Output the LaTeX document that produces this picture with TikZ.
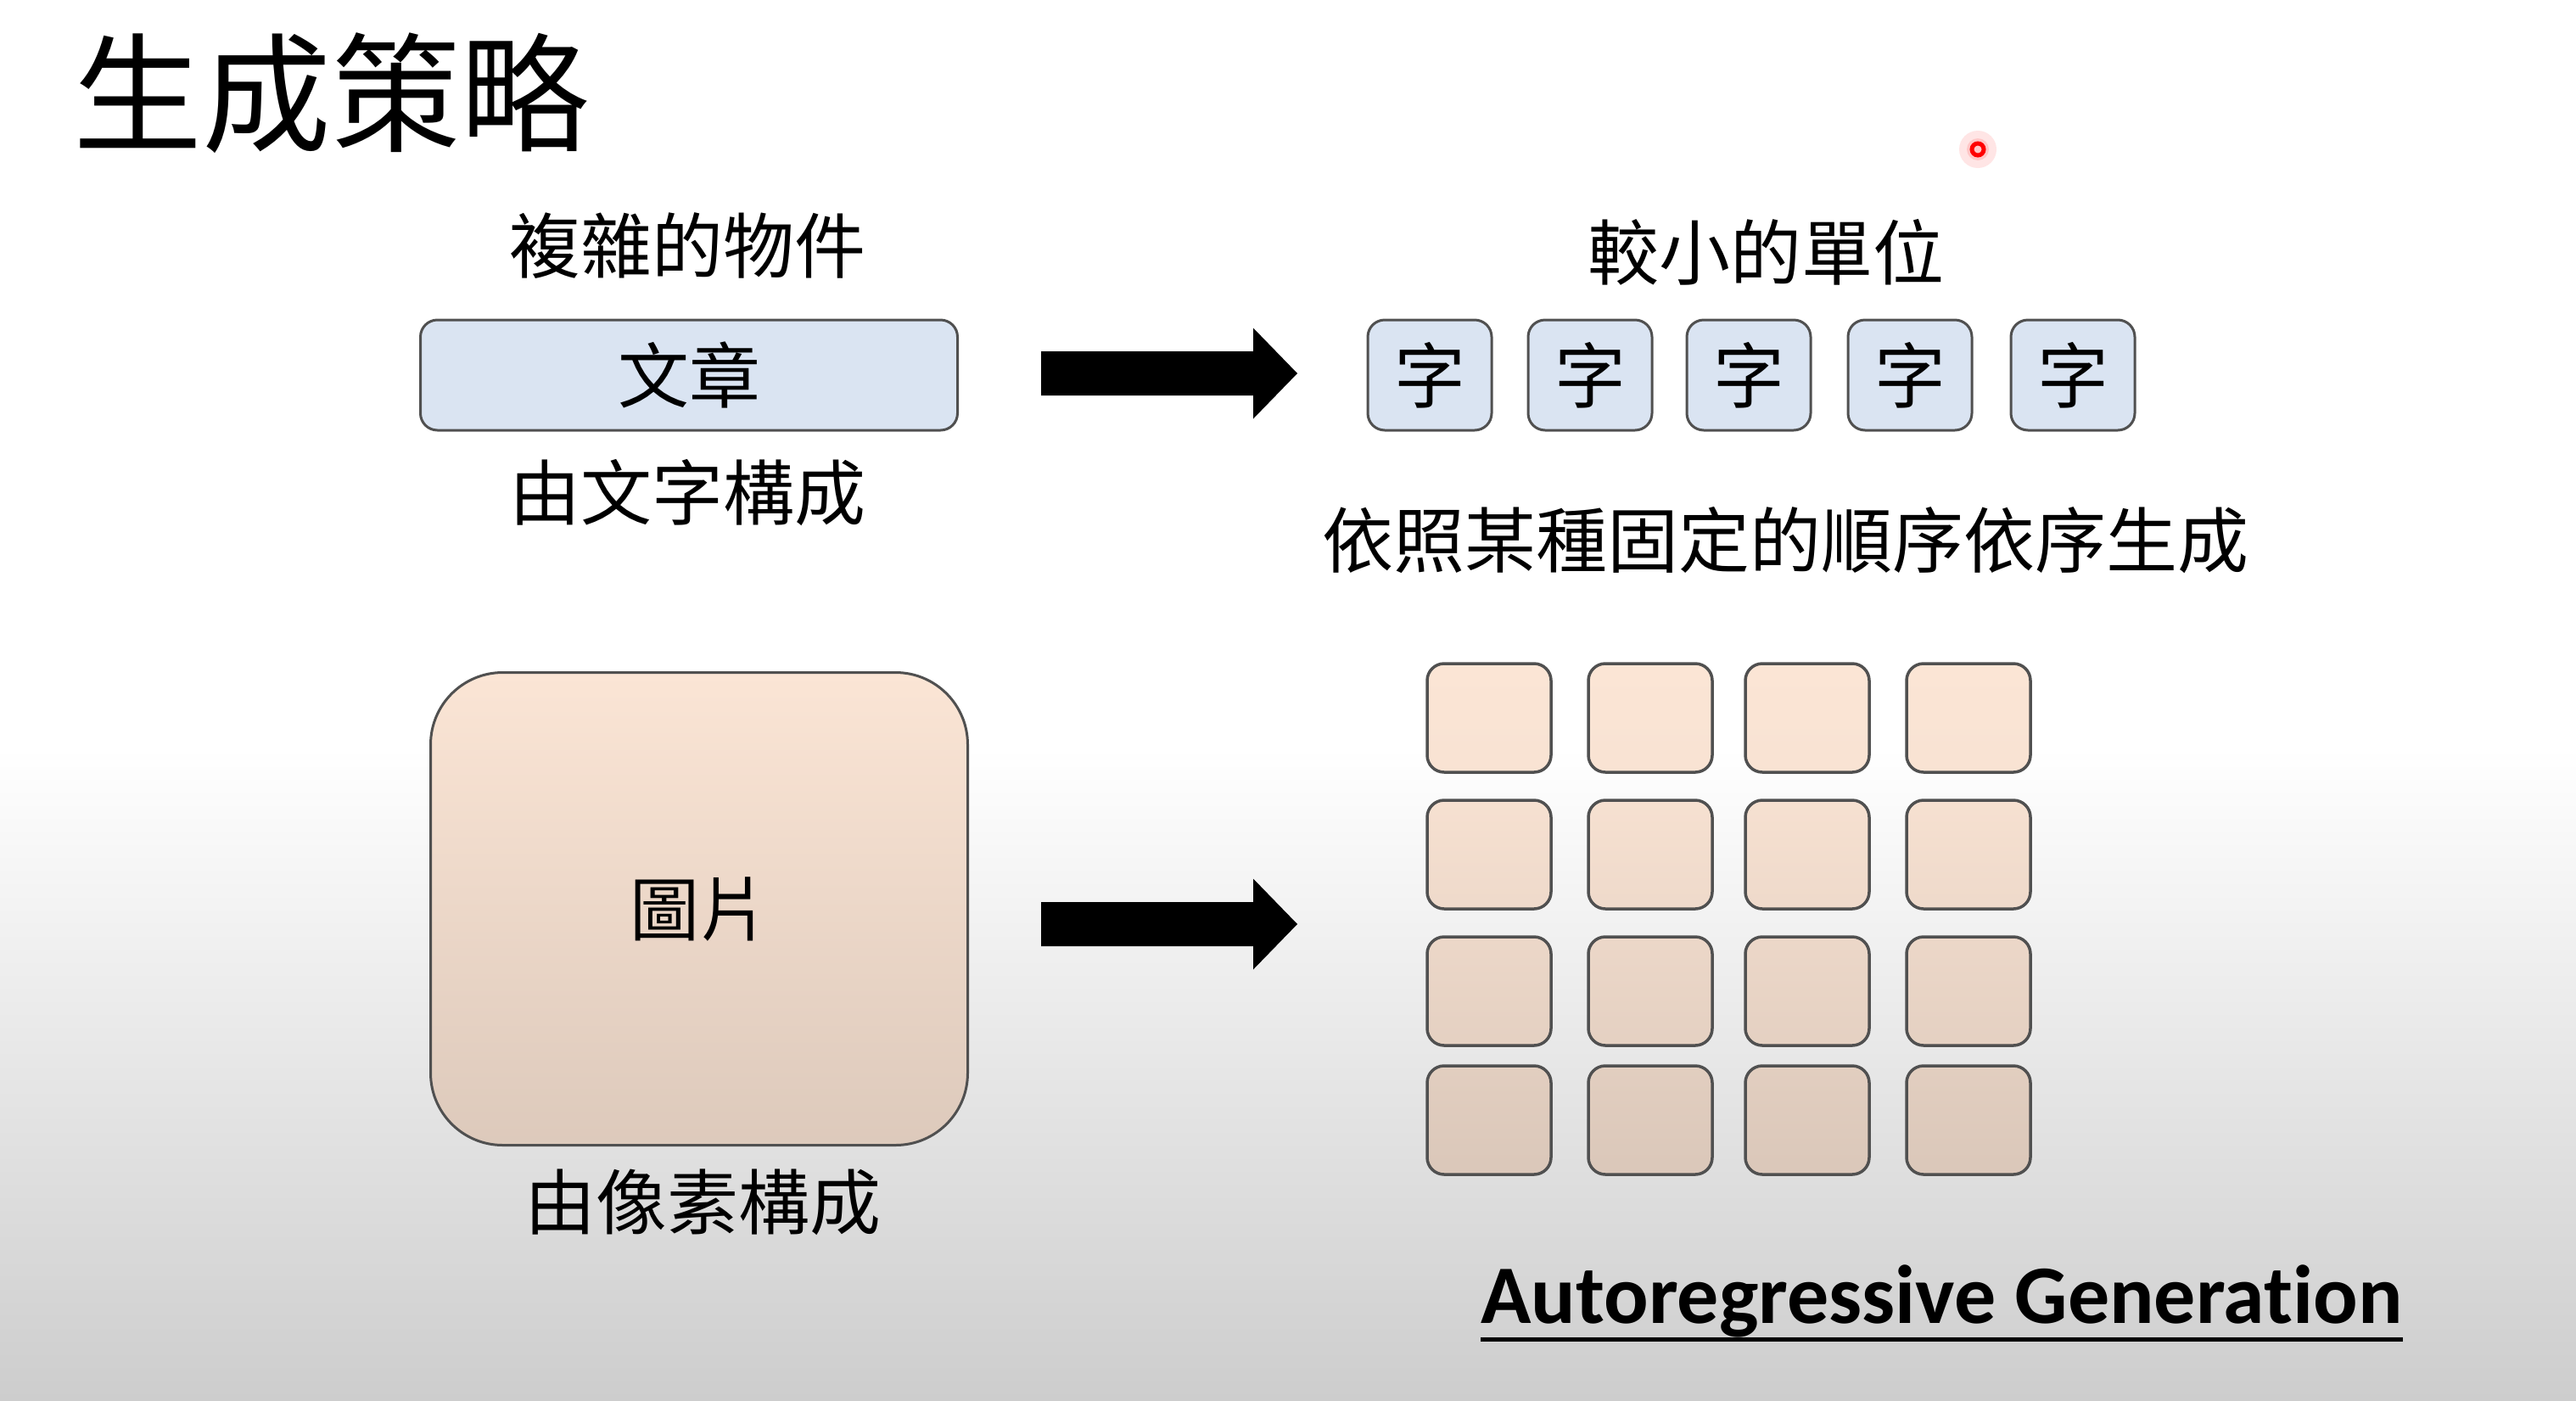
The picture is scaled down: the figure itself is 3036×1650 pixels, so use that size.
\documentclass[tikz,border=0pt]{standalone}
\usepackage{fontspec}
\setmainfont{Noto Sans CJK TC}
\newfontfamily\enfont[Ligatures=NoCommon]{Carlito}

\definecolor{boxblue}{RGB}{218,228,242}
\definecolor{edgegray}{RGB}{80,80,80}
\definecolor{peach}{RGB}{251,229,213}
\definecolor{bggray}{RGB}{205,205,205}

\tikzset{
  cjk/.style={inner sep=0pt, font=\fontsize{84}{90}\selectfont},
  wordbox/.style={draw=edgegray, line width=3pt, fill=boxblue, rounded corners=20pt,
    minimum width=146pt, minimum height=130pt, inner sep=0pt, font=\fontsize{84}{90}\selectfont},
  pixbox/.style={draw=edgegray, line width=3.5pt, rounded corners=20pt,
    minimum width=146pt, minimum height=128pt, inner sep=0pt},
  blockarrow/.style={fill=black},
}

\begin{document}
\begin{tikzpicture}[x=1pt,y=-1pt]
\useasboundingbox (0,0) rectangle (3036,1650);
% background
\fill[white] (0,0) rectangle (3036,881);
\shade[top color=white, bottom color=bggray] (0,880) rectangle (3036,1650);

% title
\node[anchor=west, inner sep=0pt, font=\fontsize{152}{160}\selectfont] (title) at (86,110) {生成策略};

% red pointer
\fill[red!10] (2331,176) circle (22pt);
\fill[red!22] (2331,176) circle (13pt);
\draw[red, line width=5pt] (2331,176) circle (7pt);

% top row
\node[cjk] (t1) at (810,290) {複雜的物件};
\node[wordbox, minimum width=633pt] (wz) at (812,442) {文章};
\node[cjk] (t2) at (810,581) {由文字構成};

\coordinate (a1) at (1227,440);
\fill[blockarrow] (a1) ++(0,-26) -- ++(250,0) -- ++(0,-27.5) -- ++(52,53.5) -- ++(-52,53.5) -- ++(0,-27.5) -- ++(-250,0) -- cycle;

\node[cjk] (t3) at (2081,297) {較小的單位};
\foreach \i/\x in {1/1685,2/1874,3/2061,4/2251,5/2443}{
  \node[wordbox] (w\i) at (\x,442) {字};
}
\node[cjk] (t4) at (2104,637) {依照某種固定的順序依序生成};

% bottom row
\node[draw=edgegray, line width=3pt, rounded corners=85pt, minimum width=633pt, minimum height=557pt,
  inner sep=0pt, top color=peach, bottom color=peach!88!black, font=\fontsize{82}{90}\selectfont] (pic) at (824,1071) {圖片};
\node[cjk] (t5) at (828,1417) {由像素構成};

\coordinate (a2) at (1227,1089);
\fill[blockarrow] (a2) ++(0,-26) -- ++(250,0) -- ++(0,-27.5) -- ++(52,53.5) -- ++(-52,53.5) -- ++(0,-27.5) -- ++(-250,0) -- cycle;

\foreach \r/\y/\tc/\bc in {1/846/100/99, 2/1007/98/95, 3/1168/94/91, 4/1320/90/87}{
  \foreach \c/\x in {1/1755,2/1945,3/2130,4/2320}{
    \node[pixbox, top color=peach!\tc!black, bottom color=peach!\bc!black] (p\r\c) at (\x,\y) {};
  }
}

% caption
\node[anchor=base west, inner sep=0pt, font=\enfont\bfseries\fontsize{98}{100}\selectfont] (ag) at (1745,1559) {Autoregressive Generation};
\draw[line width=5pt] ([yshift=-19pt]ag.base west) -- ([yshift=-19pt]ag.base east);
\end{tikzpicture}
\end{document}
